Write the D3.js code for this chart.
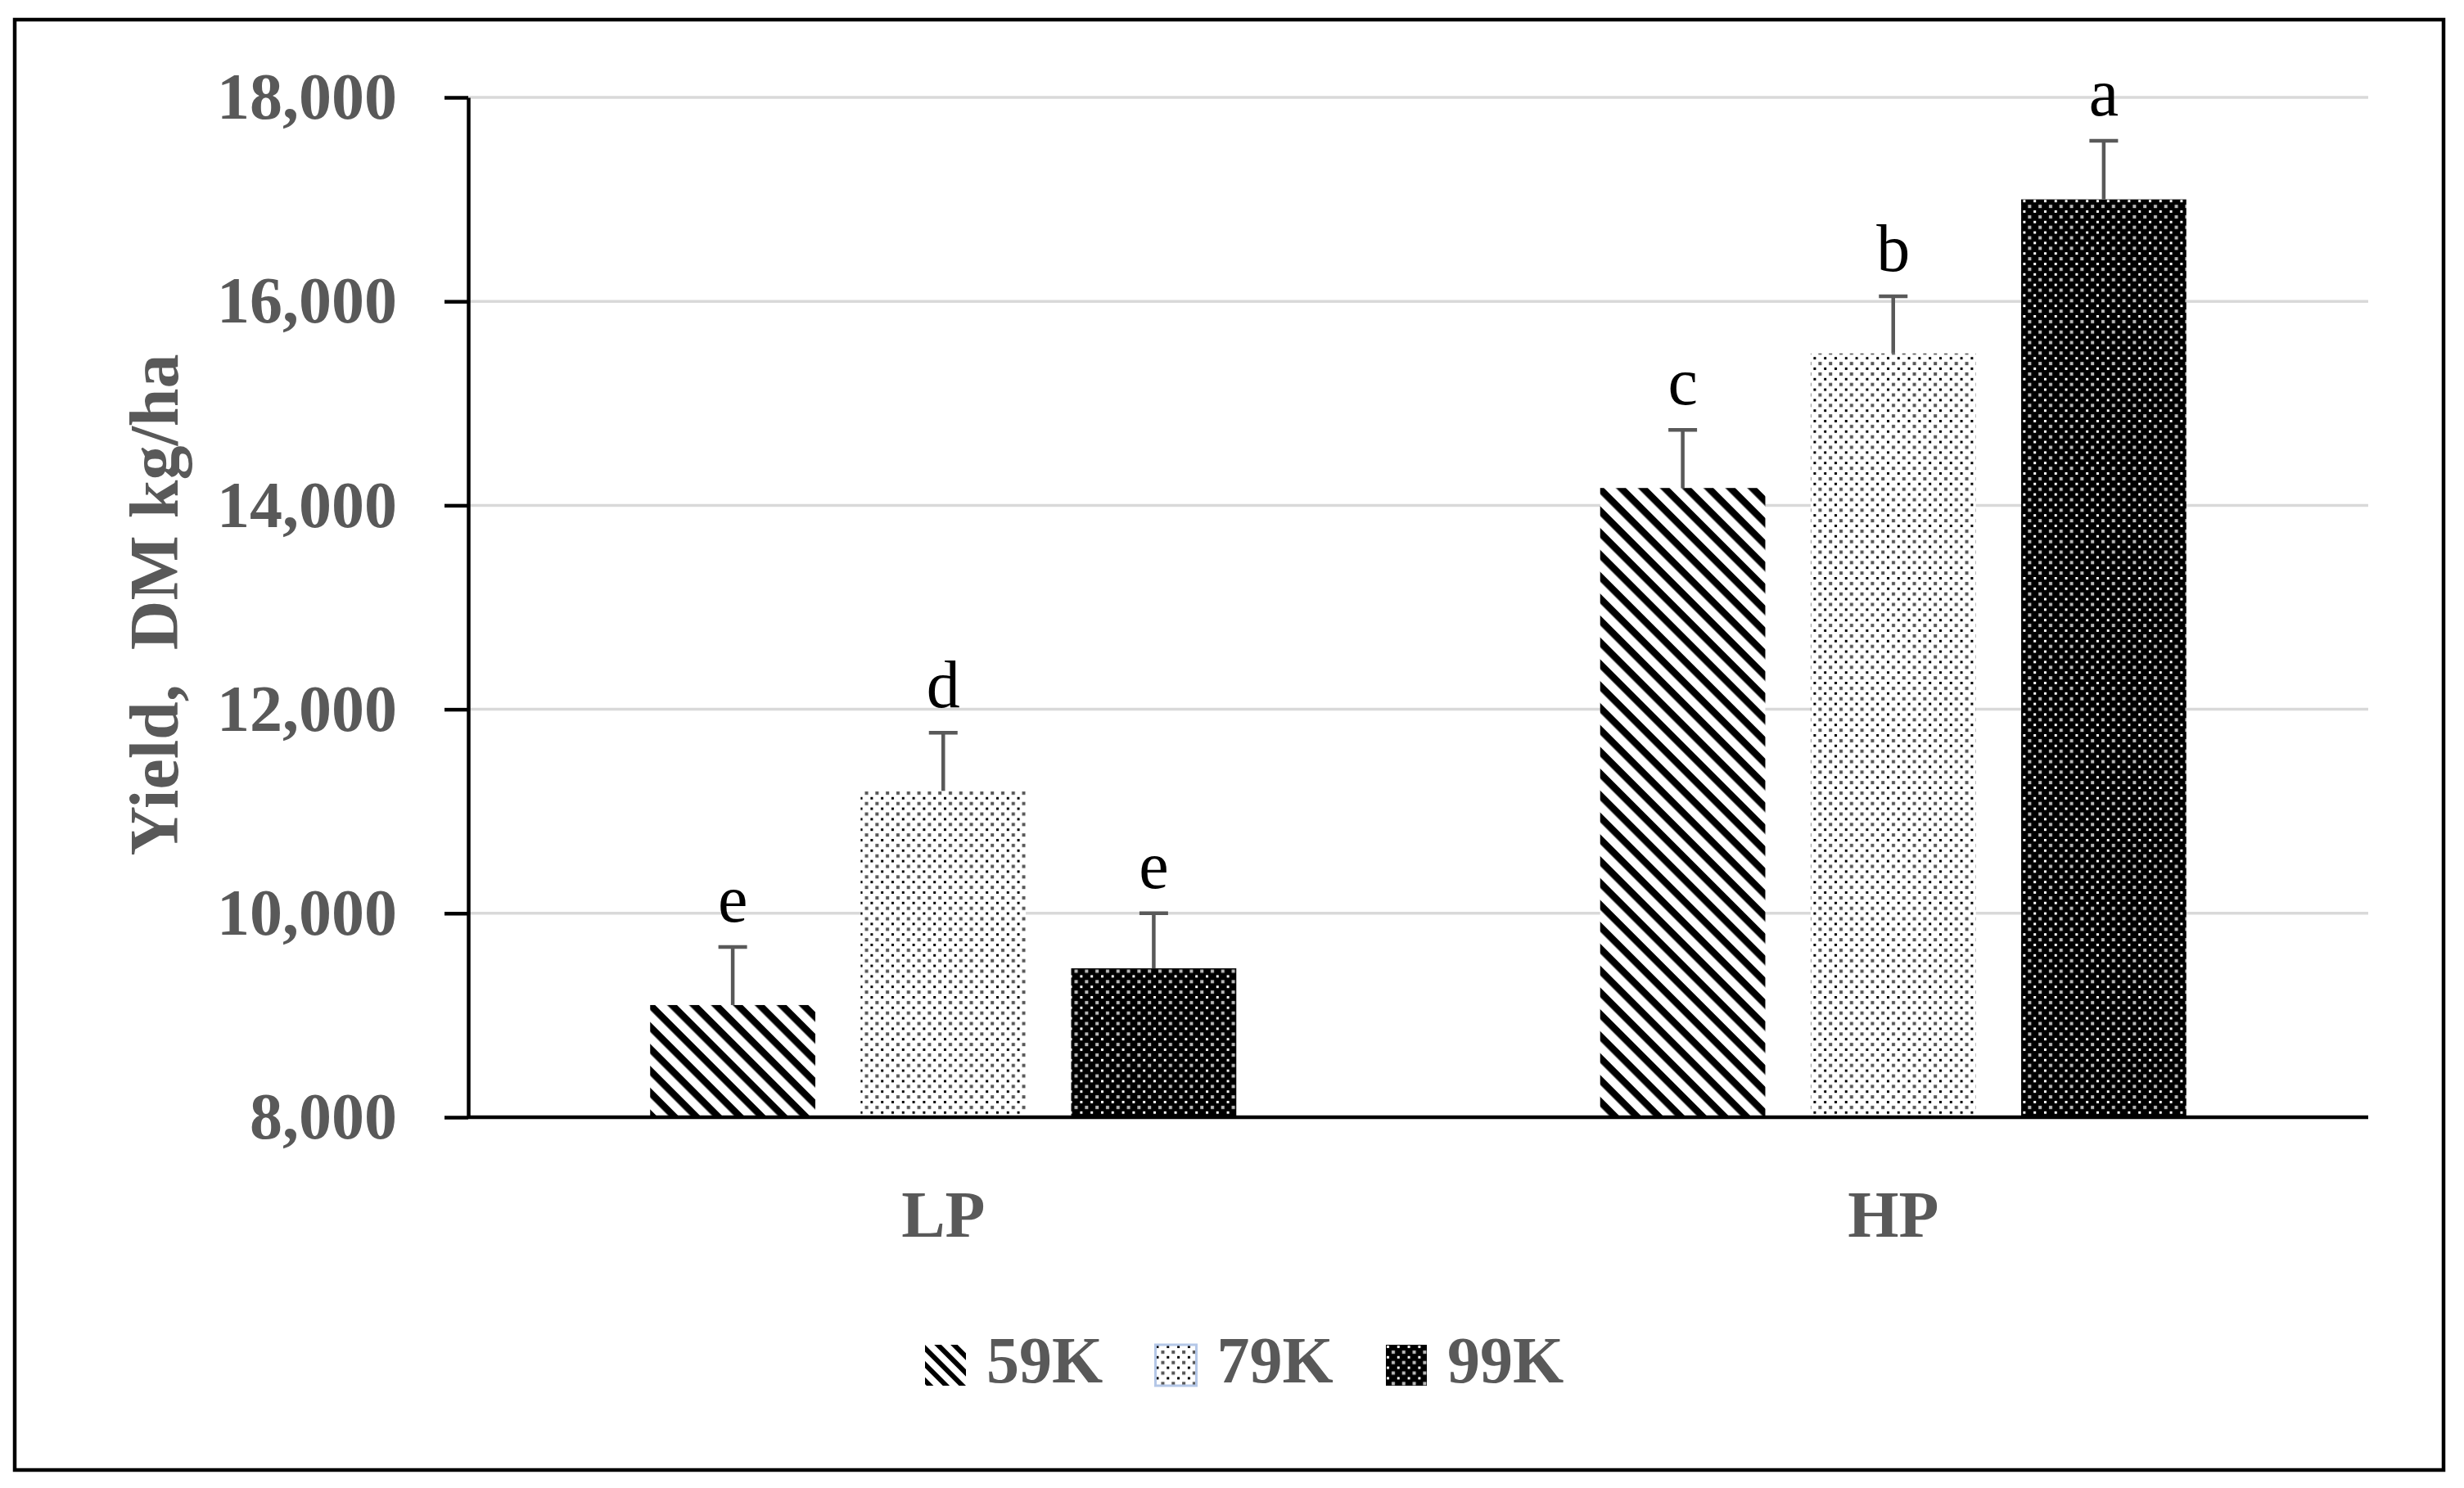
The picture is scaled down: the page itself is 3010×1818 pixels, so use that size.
<!DOCTYPE html>
<html>
<head>
<meta charset="utf-8">
<script src="https://cdn.jsdelivr.net/npm/d3@7"></script>
<style>
  html, body { margin: 0; padding: 0; background: #fff; }
  svg { display: block; }
  text { font-family: "Liberation Serif", "Times New Roman", serif; }
</style>
</head>
<body>
<script>
// ---- Data ----
const categories = ["LP", "HP"];
const seriesNames = ["59K", "79K", "99K"];
const yield59K = [9100, 14170];
const yield79K = [11200, 15490];
const yield99K = [9460, 17000];
const err59K = [570, 570];
const err79K = [570, 560];
const err99K = [540, 575];
const letters59K = ["e", "c"];
const letters79K = ["d", "b"];
const letters99K = ["e", "a"];
const yTicks = [8000, 10000, 12000, 14000, 16000, 18000];
const yTitle = "Yield,  DM kg/ha";

const seriesValues = [yield59K, yield79K, yield99K];
const seriesErrors = [err59K, err79K, err99K];
const seriesLetters = [letters59K, letters79K, letters99K];
const seriesFill = ["url(#stripes)", "url(#dotsLight)", "url(#dotsDark)"];
const legendFill = ["url(#stripesSmall)", "url(#dotsLight)", "url(#dotsDark)"];

const rows = [];
seriesNames.forEach((s, si) => {
  categories.forEach((c, ci) => {
    rows.push({ series: s, si, cat: c, value: seriesValues[si][ci], err: seriesErrors[si][ci], letter: seriesLetters[si][ci] });
  });
});

const W = 3010, H = 1818;
const plotLeft = 572, plotRight = 2893, plotTop = 119, plotBottom = 1365;
const textGray = "#595959";

const svg = d3.select("body").append("svg").attr("width", W).attr("height", H);
svg.append("rect").attr("width", W).attr("height", H).attr("fill", "#fff");

// ---- Patterns ----
const defs = svg.append("defs");
const p1 = defs.append("pattern").attr("id", "stripes").attr("patternUnits", "userSpaceOnUse")
  .attr("width", 18.9).attr("height", 18.9).attr("patternTransform", "rotate(45)");
p1.append("rect").attr("width", 18.9).attr("height", 18.9).attr("fill", "#fff");
p1.append("rect").attr("width", 18.9).attr("height", 8.5).attr("fill", "#000");

const p1s = defs.append("pattern").attr("id", "stripesSmall").attr("patternUnits", "userSpaceOnUse")
  .attr("width", 14).attr("height", 14).attr("patternTransform", "rotate(45)");
p1s.append("rect").attr("width", 14).attr("height", 14).attr("fill", "#fff");
p1s.append("rect").attr("width", 14).attr("height", 6).attr("fill", "#000");

const T = 12.8;
const p2 = defs.append("pattern").attr("id", "dotsLight").attr("patternUnits", "userSpaceOnUse")
  .attr("width", T).attr("height", T);
p2.append("rect").attr("width", T).attr("height", T).attr("fill", "#fff");
p2.append("rect").attr("x", 1).attr("y", 1).attr("width", 3).attr("height", 3).attr("fill", "#000");
p2.append("rect").attr("x", 7).attr("y", 7).attr("width", 4).attr("height", 4).attr("fill", "#555");

const p3 = defs.append("pattern").attr("id", "dotsDark").attr("patternUnits", "userSpaceOnUse")
  .attr("width", T).attr("height", T);
p3.append("rect").attr("width", T).attr("height", T).attr("fill", "#000");
p3.append("rect").attr("x", 1).attr("y", 1).attr("width", 3).attr("height", 3).attr("fill", "#fff");
p3.append("rect").attr("x", 7).attr("y", 7).attr("width", 4).attr("height", 4).attr("fill", "#bbb");

// ---- Outer frame ----
svg.append("rect").attr("x", 18).attr("y", 24).attr("width", 2967).attr("height", 1772)
  .attr("fill", "none").attr("stroke", "#000").attr("stroke-width", 4.5);

// ---- Scales ----
const y = d3.scaleLinear().domain([8000, 18000]).range([plotBottom, plotTop]);
const x0 = d3.scaleBand().domain(categories).range([plotLeft, plotRight])
  .paddingInner(0.383).paddingOuter(0.1915);
const x1 = d3.scaleBand().domain(seriesNames).range([0, x0.bandwidth()]).paddingInner(0.2155);

// ---- Gridlines ----
svg.append("g").selectAll("line").data(yTicks.filter(t => t !== 8000)).join("line")
  .attr("x1", plotLeft).attr("x2", plotRight)
  .attr("y1", d => y(d)).attr("y2", d => y(d))
  .attr("stroke", "#d9d9d9").attr("stroke-width", 3.5);

// ---- Bars ----
svg.append("g").selectAll("rect").data(rows).join("rect")
  .attr("x", d => x0(d.cat) + x1(d.series))
  .attr("y", d => y(d.value))
  .attr("width", x1.bandwidth())
  .attr("height", d => y(8000) - y(d.value))
  .attr("fill", d => seriesFill[d.si]);

// ---- Error bars ----
const eb = svg.append("g").attr("stroke", textGray).attr("stroke-width", 4.5);
rows.forEach(d => {
  const cx = x0(d.cat) + x1(d.series) + x1.bandwidth() / 2;
  eb.append("line").attr("x1", cx).attr("x2", cx).attr("y1", y(d.value)).attr("y2", y(d.value + d.err));
  eb.append("line").attr("x1", cx - 17.5).attr("x2", cx + 17.5)
    .attr("y1", y(d.value + d.err)).attr("y2", y(d.value + d.err));
});

// ---- Significance letters ----
svg.append("g").selectAll("text").data(rows).join("text")
  .attr("x", d => x0(d.cat) + x1(d.series) + x1.bandwidth() / 2)
  .attr("y", d => y(d.value + d.err) - 31)
  .attr("text-anchor", "middle")
  .attr("font-size", 82)
  .attr("fill", "#000")
  .text(d => d.letter);

// ---- Axes ----
svg.append("line").attr("x1", plotLeft).attr("x2", plotRight)
  .attr("y1", y(8000)).attr("y2", y(8000))
  .attr("stroke", "#000").attr("stroke-width", 4.5);

const yAxis = svg.append("g").attr("transform", `translate(${plotLeft},0)`)
  .call(d3.axisLeft(y).tickValues(yTicks).tickSize(29).tickSizeOuter(0).tickPadding(58)
    .tickFormat(d3.format(",")));
yAxis.select(".domain").attr("stroke", "#000").attr("stroke-width", 4.5);
yAxis.selectAll(".tick line").attr("stroke", "#000").attr("stroke-width", 4.5);
yAxis.selectAll(".tick text")
  .attr("font-family", "'Liberation Serif', 'Times New Roman', serif")
  .attr("font-size", 80).attr("font-weight", "bold").attr("fill", textGray);

// Category labels
svg.append("g").selectAll("text").data(categories).join("text")
  .attr("x", d => x0(d) + x0.bandwidth() / 2)
  .attr("y", 1511)
  .attr("text-anchor", "middle")
  .attr("font-size", 80).attr("font-weight", "bold").attr("fill", textGray)
  .text(d => d);

// Y title
svg.append("text")
  .attr("transform", "translate(217,739) rotate(-90)")
  .attr("text-anchor", "middle")
  .attr("font-size", 84).attr("font-weight", "bold").attr("fill", textGray)
  .style("white-space", "pre")
  .text(yTitle);

// ---- Legend ----
const legend = svg.append("g").attr("transform", "translate(1130,1643)");
const li = legend.selectAll("g").data(seriesNames).join("g")
  .attr("transform", (d, i) => `translate(${i * 281.5},0)`);
li.append("rect").attr("width", 50).attr("height", 50)
  .attr("fill", (d, i) => legendFill[i])
  .attr("stroke", (d, i) => i === 1 ? "#b4c7e7" : "none")
  .attr("stroke-width", 3);
li.append("text").attr("x", 75).attr("y", 46)
  .attr("font-size", 80).attr("font-weight", "bold").attr("fill", textGray)
  .text(d => d);
</script>
</body>
</html>
